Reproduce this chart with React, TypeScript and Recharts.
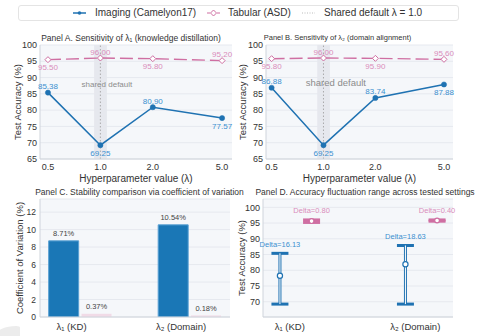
import React from 'react'
import {
  LineChart,
  Line,
  BarChart,
  Bar,
  Cell,
  ComposedChart,
  Scatter,
  ErrorBar,
  XAxis,
  YAxis,
  CartesianGrid,
  ReferenceArea,
  ReferenceLine,
  ReferenceDot,
  LabelList,
  Label,
} from 'recharts'

// hyperparameter sweep (Panels A, B)
const lambdas = [0.5, 1.0, 2.0, 5.0]
const imagingKD = [85.38, 69.25, 80.9, 77.57]
const tabularKD = [95.5, 96.0, 95.8, 95.2]
const imagingDomain = [86.88, 69.25, 83.74, 87.88]
const tabularDomain = [95.8, 96.0, 95.9, 95.6]

// stability summary (Panels C, D)
const settingNames = ['λ₁ (KD)', 'λ₂ (Domain)']
const cvImaging = [8.71, 10.54]
const cvTabular = [0.37, 0.18]

const accTicks = [65, 70, 75, 80, 85, 90, 95, 100]
const rangeTicks = [70, 75, 80, 85, 90, 95, 100]
const cvTicks = [0, 2, 4, 6, 8, 10, 12]

const BLUE = '#1f72b2'
const BLUE_BAR = '#1a77b6'
const BLUE_TEXT = '#3b90d0'
const PINK = '#cf6fa2'
const PINK_TEXT = '#da8dbb'
const AXIS = '#cfd4db'
const GRID = '#e6e9ef'
const PLOT_BG = '#f5f7fa'
const TEXT = '#333'
const TICK = { fontSize: 9, fill: TEXT }

// which side of the marker each value label sits on
const imgPlace = ['top', 'bottom', 'top', 'bottom']
const tabPlaceA = ['bottom', 'top', 'bottom', 'top']
const tabPlaceB = ['bottom', 'top', 'bottom', 'top']

function PointLabel(props: any) {
  const { x, y, value, index, places, color } = props
  const above = places[index] === 'top'
  return (
    <text x={x} y={above ? y - 3.5 : y + 10.5} textAnchor="middle" fontSize={8} fill={color}>
      {Number(value).toFixed(2)}
    </text>
  )
}

function Diamond(props: any) {
  const { cx, cy } = props
  const s = 3
  return (
    <polygon
      points={`${cx},${cy - s} ${cx + s},${cy} ${cx},${cy + s} ${cx - s},${cy}`}
      fill="#fff"
      stroke={PINK}
      strokeWidth={1}
    />
  )
}

function Title({ text, cx, cy, size }: { text: string; cx: number; cy: number; size: number }) {
  return (
    <div
      style={{
        position: 'absolute',
        left: cx - 150,
        width: 300,
        top: cy - 6,
        height: 12,
        lineHeight: '12px',
        textAlign: 'center',
        fontSize: size,
        color: TEXT,
        whiteSpace: 'nowrap',
      }}
    >
      {text}
    </div>
  )
}

function SensitivityPanel(p: {
  img: number[]
  tab: number[]
  tabPlace: string[]
  left: number
  width: number
  axisW: number
  right: number
  xDomain: [number, number]
  yLabelX: number
  noteX: number
  noteY: number
  noteSize: number
}) {
  const rows = lambdas.map((x, i) => ({ x, imaging: p.img[i], tabular: p.tab[i] }))
  return (
    <div style={{ position: 'absolute', left: p.left, top: 30 }}>
      <LineChart width={p.width} height={160} data={rows} margin={{ top: 15, right: p.right, bottom: 0, left: 0 }}>
        <CartesianGrid vertical={false} stroke={GRID} fill={PLOT_BG} />
        <ReferenceArea x1={0.92} x2={1.09} fill="#e6e8ee" fillOpacity={1} stroke="none" />
        <ReferenceLine x={1} stroke="#9a9a9a" strokeDasharray="1.5 2" strokeWidth={0.8} />
        <ReferenceDot
          x={p.noteX}
          y={p.noteY}
          r={0}
          fill="none"
          stroke="none"
          label={{ value: 'shared default', position: 'center', fontSize: p.noteSize, fill: '#8c8c8c' }}
        />
        <XAxis
          dataKey="x"
          type="number"
          scale="log"
          domain={p.xDomain}
          allowDataOverflow
          ticks={lambdas}
          interval={0}
          tickFormatter={(v) => Number(v).toFixed(1)}
          tick={TICK}
          tickLine={false}
          tickSize={3}
          tickMargin={2}
          axisLine={{ stroke: AXIS }}
          height={31}
        >
          <Label value="Hyperparameter value (λ)" position="insideBottom" offset={8.5} fontSize={10} fill={TEXT} />
        </XAxis>
        <YAxis
          type="number"
          domain={[65, 100]}
          ticks={accTicks}
          interval={0}
          tick={TICK}
          tickLine={false}
          tickSize={2}
          tickMargin={1}
          axisLine={{ stroke: AXIS }}
          width={p.axisW}
        >
          <Label
            value="Test Accuracy (%)"
            angle={-90}
            position="insideLeft"
            offset={p.yLabelX}
            fontSize={9.5}
            fill={TEXT}
            style={{ textAnchor: 'middle' }}
          />
        </YAxis>
        <Line
          dataKey="tabular"
          stroke={PINK}
          strokeWidth={1.4}
          strokeDasharray="13 5"
          dot={(d: any) => <Diamond key={d.index} {...d} />}
          isAnimationActive={false}
        >
          <LabelList dataKey="tabular" content={(l: any) => <PointLabel {...l} places={p.tabPlace} color={PINK_TEXT} />} />
        </Line>
        <Line
          dataKey="imaging"
          stroke={BLUE}
          strokeWidth={1.5}
          dot={{ r: 2.6, fill: BLUE, stroke: BLUE, strokeWidth: 0.5 }}
          isAnimationActive={false}
        >
          <LabelList dataKey="imaging" content={(l: any) => <PointLabel {...l} places={imgPlace} color={BLUE_TEXT} />} />
        </Line>
      </LineChart>
    </div>
  )
}

function CatTick(props: any) {
  const { x, y, payload, shift } = props
  return (
    <text x={x + shift} y={y} dy="0.71em" textAnchor="middle" fontSize={9.5} fill={TEXT}>
      {settingNames[payload.value]}
    </text>
  )
}

function CvPanel() {
  const rows = settingNames.flatMap((_, i) => [
    { x: i - 0.15, v: cvImaging[i] },
    { x: i + 0.15, v: cvTabular[i] },
  ])
  return (
    <div style={{ position: 'absolute', left: 0, top: 195 }}>
      <BarChart width={238} height={141} data={rows} margin={{ top: 4, right: 8, bottom: 0, left: 0 }}>
        <CartesianGrid vertical={false} stroke={GRID} fill={PLOT_BG} />
        <XAxis
          dataKey="x"
          type="number"
          domain={[-0.37, 1.365]}
          allowDataOverflow
          ticks={[0, 1]}
          interval={0}
          tick={(t: any) => <CatTick {...t} shift={-9} />}
          tickLine={false}
          tickSize={3}
          tickMargin={3}
          axisLine={{ stroke: AXIS }}
          height={19}
        />
        <YAxis
          type="number"
          domain={[0, 13.5]}
          allowDataOverflow
          ticks={cvTicks}
          interval={0}
          tick={{ fontSize: 8.5, fill: TEXT }}
          tickLine={false}
          tickSize={2}
          tickMargin={2}
          axisLine={{ stroke: AXIS }}
          width={40}
        >
          <Label
            value="Coefficient of Variation (%)"
            angle={-90}
            position="insideLeft"
            offset={20}
            fontSize={9.5}
            fill={TEXT}
            style={{ textAnchor: 'middle' }}
          />
        </YAxis>
        <Bar dataKey="v" barSize={30} isAnimationActive={false}>
          {rows.map((_, i) =>
            i % 2 === 0 ? (
              <Cell key={i} fill={BLUE_BAR} stroke="#5aa0d4" strokeWidth={1} />
            ) : (
              <Cell key={i} fill="#f1dbe7" stroke="none" />
            ),
          )}
          <LabelList
            dataKey="v"
            position="top"
            offset={4.5}
            fontSize={7.5}
            fill="#444"
            formatter={(v: any) => `${Number(v).toFixed(2)}%`}
          />
        </Bar>
      </BarChart>
    </div>
  )
}

function rangeOf(vals: number[], x: number) {
  const lo = Math.min(...vals)
  const hi = Math.max(...vals)
  const mean = vals.reduce((a, b) => a + b, 0) / vals.length
  return { x, y: mean, err: [mean - lo, hi - mean], top: hi, label: `Delta=${(hi - lo).toFixed(2)}` }
}

function DeltaLabel(props: any) {
  const vb = props.viewBox && props.viewBox.x != null ? props.viewBox : props
  const cx = vb.x + (vb.width || 0) / 2
  const cy = vb.y + (vb.height || 0) / 2
  return (
    <text x={cx} y={cy - 6.5} textAnchor="middle" fontSize={7.5} fill={props.color}>
      {props.value}
    </text>
  )
}

function RangePanel() {
  const imgRows = [rangeOf(imagingKD, -0.126), rangeOf(imagingDomain, 0.874)]
  const tabRows = [rangeOf(tabularKD, 0.126), rangeOf(tabularDomain, 1.126)]
  const imgTops = imgRows.map((r) => ({ x: r.x, y: r.top, label: r.label }))
  const tabTops = tabRows.map((r) => ({ x: r.x, y: r.top, label: r.label }))
  return (
    <div style={{ position: 'absolute', left: 232, top: 195 }}>
      <ComposedChart width={245} height={141} margin={{ top: 4, right: 24, bottom: 0, left: 0 }}>
        <CartesianGrid vertical={false} stroke={GRID} fill={PLOT_BG} />
        <XAxis
          dataKey="x"
          type="number"
          domain={[-0.261, 1.253]}
          allowDataOverflow
          ticks={[0, 1]}
          interval={0}
          tick={(t: any) => <CatTick {...t} shift={-6} />}
          tickLine={false}
          tickSize={3}
          tickMargin={3}
          axisLine={{ stroke: AXIS }}
          height={19}
        />
        <YAxis
          dataKey="y"
          type="number"
          domain={[65.15, 102.65]}
          allowDataOverflow
          ticks={rangeTicks}
          interval={0}
          tick={TICK}
          tickLine={false}
          tickSize={2}
          tickMargin={1}
          axisLine={{ stroke: AXIS }}
          width={31}
        >
          <Label
            value="Test Accuracy (%)"
            angle={-90}
            position="insideLeft"
            offset={9.5}
            fontSize={9.5}
            fill={TEXT}
            style={{ textAnchor: 'middle' }}
          />
        </YAxis>
        <Scatter
          data={imgRows}
          isAnimationActive={false}
          shape={(s: any) => <circle cx={s.cx} cy={s.cy} r={2.6} fill="#fff" stroke={BLUE} strokeWidth={1.2} />}
        >
          <ErrorBar dataKey="err" direction="y" width={8.5} stroke={BLUE} strokeWidth={3} />
          <ErrorBar dataKey="err" direction="y" width={0} stroke="#fff" strokeWidth={1} />
        </Scatter>
        <Scatter
          data={tabRows}
          isAnimationActive={false}
          shape={(s: any) => <circle cx={s.cx} cy={s.cy} r={2.4} fill="#fff" stroke={PINK} strokeWidth={1.2} />}
        >
          <ErrorBar dataKey="err" direction="y" width={8.5} stroke={PINK} strokeWidth={3} />
        </Scatter>
        <Scatter data={imgTops} isAnimationActive={false} shape={() => <g />}>
          <LabelList dataKey="label" content={(l: any) => <DeltaLabel {...l} color={BLUE_TEXT} />} />
        </Scatter>
        <Scatter data={tabTops} isAnimationActive={false} shape={() => <g />}>
          <LabelList dataKey="label" content={(l: any) => <DeltaLabel {...l} color={PINK_TEXT} />} />
        </Scatter>
      </ComposedChart>
    </div>
  )
}

function TopLegend() {
  const txt = { position: 'absolute' as const, top: 7, fontSize: 10, lineHeight: '12px', color: '#333', whiteSpace: 'nowrap' as const }
  return (
    <>
      <div
        style={{
          position: 'absolute',
          left: 18,
          top: 5,
          width: 441,
          height: 16,
          border: '1px solid #e4e4e4',
          borderRadius: 3,
          boxSizing: 'border-box',
        }}
      />
      <svg width={477} height={26} style={{ position: 'absolute', left: 0, top: 0 }}>
        <line x1={73} x2={86} y1={13} y2={13} stroke={BLUE} strokeWidth={1.5} />
        <circle cx={79.5} cy={13} r={1.8} fill={BLUE} />
        <line x1={207} x2={220} y1={13} y2={13} stroke={PINK} strokeWidth={1.2} strokeDasharray="3 2" />
        <Diamond cx={213.5} cy={13} />
        <line x1={302} x2={315} y1={13} y2={13} stroke="#aaa" strokeWidth={0.8} strokeDasharray="1 1.5" />
      </svg>
      <div style={{ ...txt, left: 95 }}>Imaging (Camelyon17)</div>
      <div style={{ ...txt, left: 228 }}>Tabular (ASD)</div>
      <div style={{ ...txt, left: 324 }}>Shared default λ = 1.0</div>
    </>
  )
}

export default function App() {
  return (
    <div
      style={{
        position: 'absolute',
        left: 0,
        top: 0,
        width: 477,
        height: 336,
        background: '#fff',
        overflow: 'hidden',
        fontFamily: '"Liberation Sans", Arial, sans-serif',
      }}
    >
      <SensitivityPanel
        img={imagingKD}
        tab={tabularKD}
        tabPlace={tabPlaceA}
        left={0}
        width={238}
        axisW={40}
        right={6}
        xDomain={[0.45, 5.7]}
        yLabelX={18}
        noteX={1.09}
        noteY={88}
        noteSize={8}
      />
      <SensitivityPanel
        img={imagingDomain}
        tab={tabularDomain}
        tabPlace={tabPlaceB}
        left={234}
        width={243}
        axisW={32}
        right={24}
        xDomain={[0.464, 5.64]}
        yLabelX={9}
        noteX={1.18}
        noteY={88.5}
        noteSize={9.5}
      />
      <CvPanel />
      <RangePanel />
      <TopLegend />
      <Title text="Panel A. Sensitivity of λ₁ (knowledge distillation)" cx={131} cy={37.5} size={8.5} />
      <Title text="Panel B. Sensitivity of λ₂ (domain alignment)" cx={337.5} cy={37.5} size={7.5} />
      <Title text="Panel C. Stability comparison via coefficient of variation" cx={139.5} cy={191.5} size={8.5} />
      <Title text="Panel D. Accuracy fluctuation range across tested settings" cx={365} cy={191.5} size={8.5} />
      <div
        style={{
          position: 'absolute',
          left: -4,
          top: 326,
          width: 24,
          height: 14,
          background: '#ececec',
          borderTopLeftRadius: '22px 10px',
          borderTopRightRadius: '4px 2px',
        }}
      />
    </div>
  )
}
